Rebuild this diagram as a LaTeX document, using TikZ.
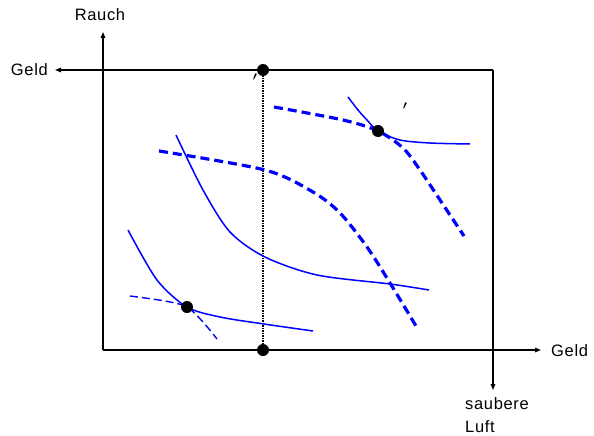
\documentclass[tikz,border=0pt]{standalone}
\usepackage{fontspec}
\setmainfont{Liberation Sans}[LetterSpace=4]
\usetikzlibrary{arrows.meta}
\begin{document}
\begin{tikzpicture}[x=1pt,y=-1pt,
  axis/.style={line width=1.4pt, black},
  arr/.style={-{Triangle[length=6pt,width=4.5pt]}},
  icurve/.style={blue, line width=1.5pt},
  tcurve/.style={blue, line width=3.2pt, dash pattern=on 9pt off 5pt},
  tsmall/.style={blue, line width=1.4pt, dash pattern=on 8pt off 4pt},
  dotpt/.style={circle, fill=black, inner sep=0pt, minimum size=12pt},
  lbl/.style={font=\fontsize{16.5}{23}\selectfont, inner sep=0pt},
  tick/.style={inner sep=0pt, font=\large\boldmath}]
\useasboundingbox (0,0) rectangle (594,436);
% origins and axis tips
\coordinate (O1) at (103,350);
\coordinate (O2) at (493,70);
\coordinate (upTip) at (103,32);
\coordinate (rightTip) at (541,350);
\coordinate (leftTip) at (55,70);
\coordinate (downTip) at (493,390);
% dotted line ends
\coordinate (dTop) at (263,70);
\coordinate (dBot) at (263,350);
% axes
\draw[axis,arr] (O1) -- (upTip);
\draw[axis,arr] (O1) -- (rightTip);
\draw[axis,arr] (O2) -- (leftTip);
\draw[axis,arr] (O2) -- (downTip);
% dotted line
\draw[black, line width=2.4pt, dash pattern=on 1.5pt off 1pt] (dTop) -- (dBot);
% curves
\draw[icurve] plot[smooth] coordinates {(348,97) (358,110) (367,120) (378,131) (400,140) (430,143) (470,144)};
\draw[tcurve] plot[smooth] coordinates {(274,107) (343,120) (378,131) (403,148) (420,170) (440,200) (464,236)};
\draw[tcurve] plot[smooth] coordinates {(159,151) (265,170) (313,192) (340,213) (367,247) (390,283) (416,326)};
\draw[icurve] plot[smooth] coordinates {(176,135) (203,190) (230,232) (265,257) (317,275) (390,284) (429,290)};
\draw[icurve] plot[smooth] coordinates {(128,230) (157,280) (187,307) (220,317) (264,324) (313,331)};
\draw[tsmall] plot[smooth] coordinates {(130,296) (165,301) (187,307) (203,322) (217,339)};
% points
\node[dotpt] (pTop) at (dTop) {};
\node[dotpt] (pBot) at (dBot) {};
\node[dotpt] (pA) at (187,307) {};
\node[dotpt] (pB) at (378,131) {};
% primes
\node[tick] (t1) at (255,77) {$\prime$};
\node[tick] (t2) at (405,106) {$\prime$};
% labels
\node[lbl] (rauch) at (100,15) {Rauch};
\node[lbl,anchor=east] (geldL) at (48,70) {Geld};
\node[lbl,anchor=west] (geldR) at (551,351) {Geld};
\node[lbl,anchor=south west,align=left,text depth=0pt] (luft) at (465,433) {saubere\\Luft};
\end{tikzpicture}
\end{document}
